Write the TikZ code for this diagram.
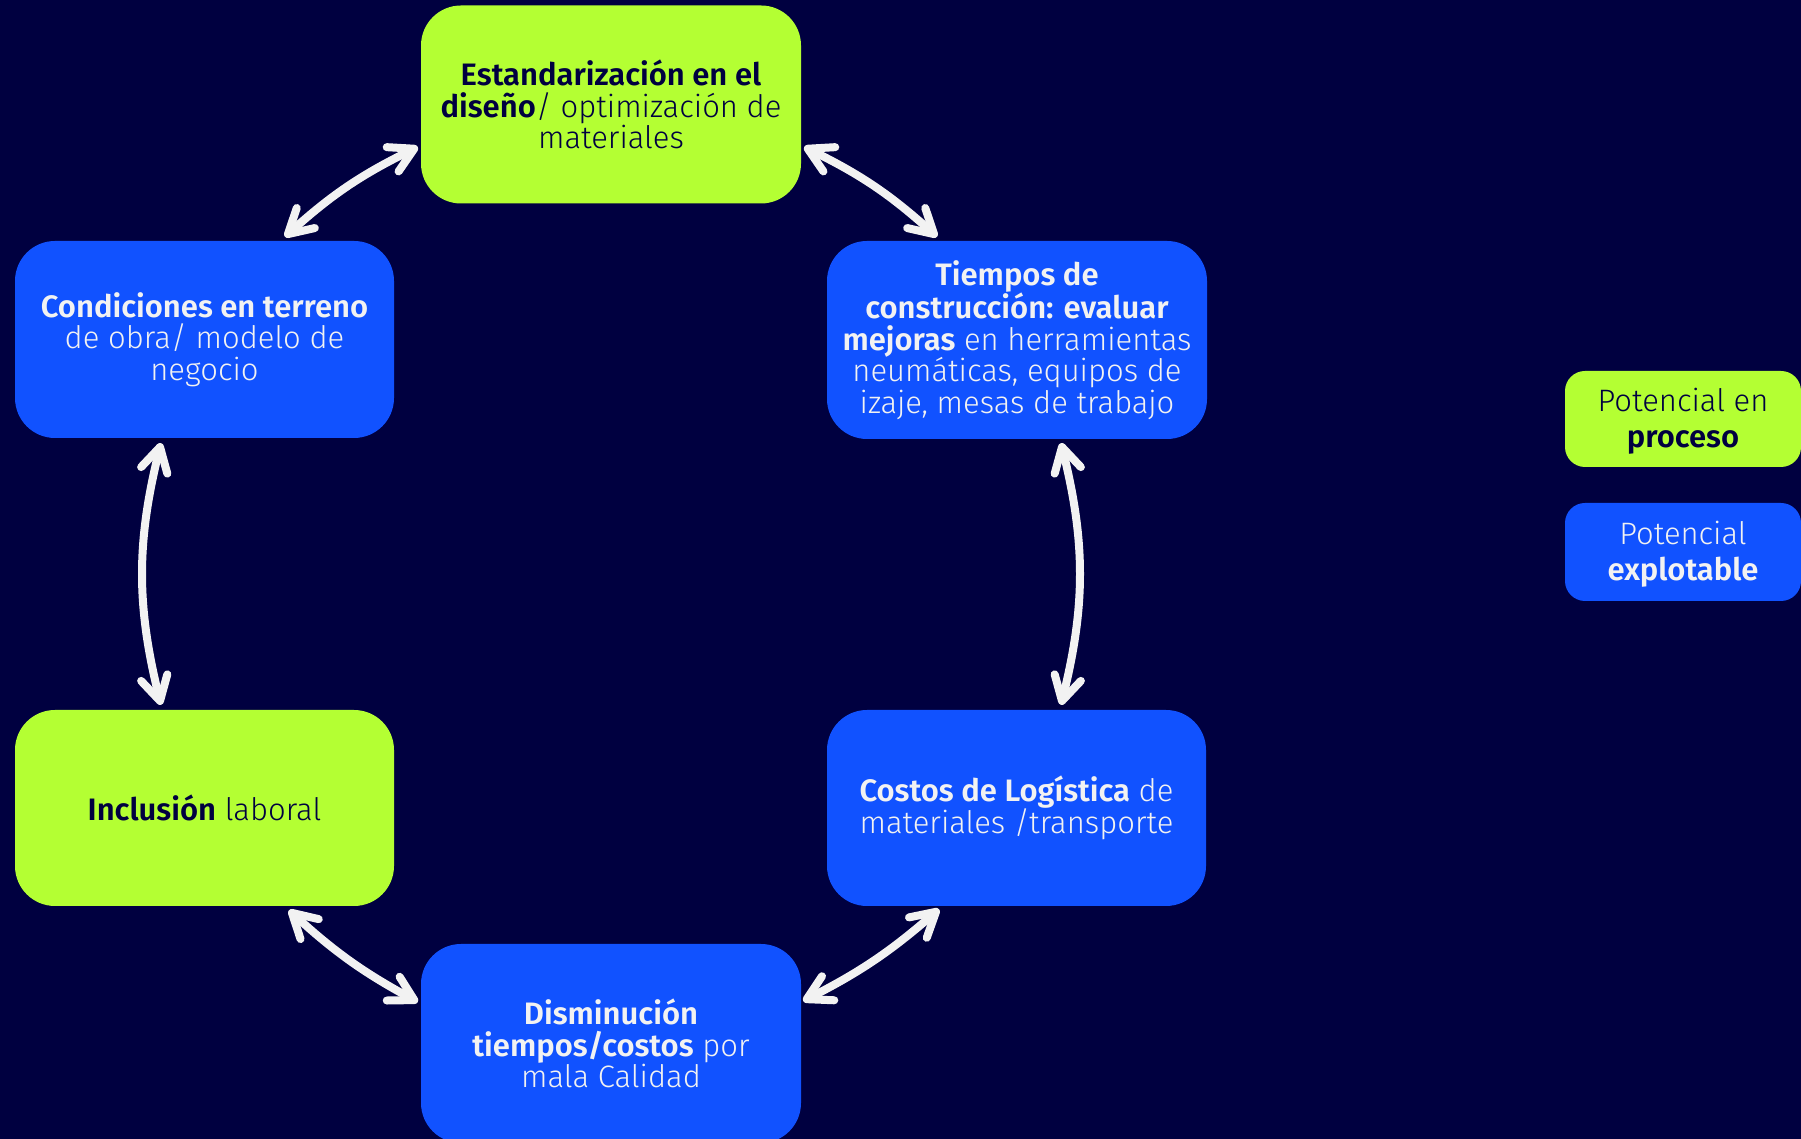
\documentclass[tikz,border=0pt]{standalone}
\usepackage{fontspec}
\setmainfont{Fira Sans}[UprightFont=* Light, BoldFont=* SemiBold]
\usetikzlibrary{arrows.meta,calc}
\definecolor{bg}{HTML}{000040}
\definecolor{lime}{HTML}{B4FF33}
\definecolor{royal}{HTML}{1152FF}
\definecolor{ink}{HTML}{000040}
\definecolor{paper}{HTML}{F2F2F2}
\newsavebox{\legsave}
\newcommand{\legtext}[2]{\sbox{\legsave}{\begin{tabular}{@{}c@{}}#1\\#2\end{tabular}}\raisebox{-3.5pt}[\ht\legsave][\dp\legsave]{\usebox{\legsave}}}
\begin{document}
\begin{tikzpicture}[x=1pt,y=1pt,
  box/.style={rounded corners=40pt, minimum width=380pt, minimum height=198pt, inner sep=0pt, align=center, font=\fontsize{31}{31.5}\selectfont},
  greenbox/.style={box, fill=lime, text=ink},
  bluebox/.style={box, fill=royal, text=paper},
  legbox/.style={rounded corners=20pt, minimum width=236pt, inner sep=0pt, align=center, font=\fontsize{31}{36}\selectfont},
  barb/.tip={Straight Barb[length=24pt,width=27pt,round]},
  link/.style={draw=paper, line width=8pt, line cap=round, barb-barb},
]
\fill[bg] (0,0) rectangle (1801,1139);
\useasboundingbox (0,0) rectangle (1801,1139);

\node[greenbox] (est) at (611,1034.5) {\textbf{Estandarización en el}\\\textbf{diseño}/ optimización de\\materiales};
\node[bluebox, minimum width=379pt, minimum height=197pt] (cond) at (204.5,799.5) {\textbf{Condiciones en terreno}\\de obra/ modelo de\\negocio};
\node[bluebox] (tiem) at (1017,799) {\textbf{Tiempos de}\\\textbf{construcción: evaluar}\\\textbf{mejoras} en herramientas\\neumáticas, equipos de\\izaje, mesas de trabajo};
\node[greenbox, minimum width=379pt, minimum height=196pt] (incl) at (204.5,331) {\textbf{Inclusión} laboral};
\node[bluebox, minimum width=379pt, minimum height=196pt] (cost) at (1016.5,331) {\textbf{Costos de Logística} de\\materiales /transporte};
\node[bluebox, minimum height=199pt] (dism) at (611,95.5) {\textbf{Disminución}\\\textbf{tiempos/costos} por\\mala Calidad};

\node[legbox, fill=lime, text=ink, minimum height=96pt] (leg1) at (1683,720) {\legtext{Potencial en}{\textbf{proceso}}};
\node[legbox, fill=royal, text=paper, minimum height=98pt] (leg2) at (1683,587) {\legtext{Potencial}{\textbf{explotable}}};

\draw[link] ($(cond.north)+(80.5,4)$) to[bend left=8] ($(est.west)+(-3,-42.5)$);
\draw[link] ($(est.east)+(3,-42.5)$) to[bend left=8] ($(tiem.north)+(-80,4)$);
\draw[link] ($(cond.south)+(-43.5,-5)$) to[bend right=14] ($(incl.north)+(-43.5,5)$);
\draw[link] ($(tiem.south)+(44,-4)$) to[bend left=14] ($(cost.north)+(44.5,5)$);
\draw[link] ($(incl.south)+(84.5,-4)$) to[bend right=7] ($(dism.west)+(-3,41.5)$);
\draw[link] ($(cost.south)+(-77.5,-3)$) to[bend left=7] ($(dism.east)+(2,42.5)$);
\end{tikzpicture}
\end{document}
